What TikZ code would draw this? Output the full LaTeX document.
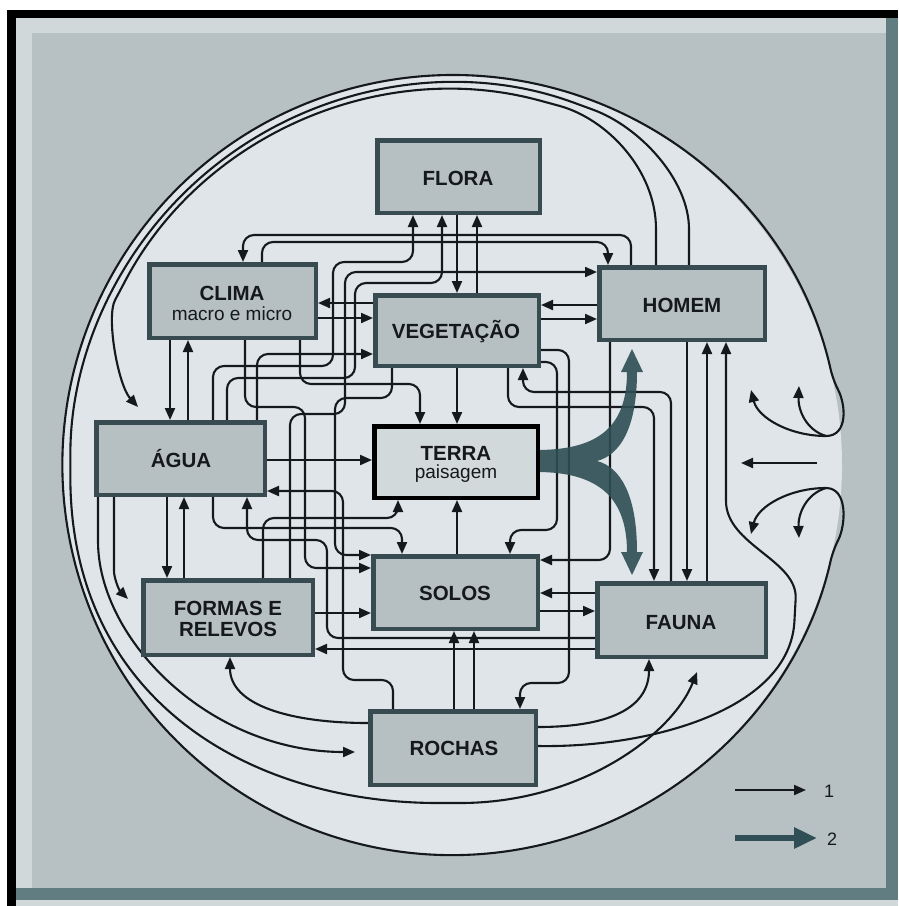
\documentclass[tikz,border=0pt]{standalone}
\usepackage{fontspec}
\setmainfont{Liberation Sans}
\usetikzlibrary{arrows.meta}
\definecolor{pagelight}{HTML}{D0D8DA}
\definecolor{pagegray}{HTML}{B7C0C3}
\definecolor{edgeteal}{HTML}{627D81}
\definecolor{circlefill}{HTML}{DFE5E8}
\definecolor{boxfill}{HTML}{B6BFC2}
\definecolor{boxedge}{HTML}{384B50}
\definecolor{terrafill}{HTML}{D2D9DB}
\definecolor{ink}{HTML}{15191B}
\definecolor{forkc}{HTML}{2F4E55}

\begin{document}
\begin{tikzpicture}[x=1pt,y=-1pt,
  box/.style={rectangle, draw=boxedge, line width=4.5pt, fill=boxfill, inner sep=0pt},
  boxlbl/.style={anchor=base, inner sep=0pt, text=ink, font=\fontsize{20.5}{22}\selectfont\bfseries},
  boxsub/.style={anchor=base, inner sep=0pt, text=ink, font=\fontsize{19}{21}\selectfont},
  wire/.style={draw=ink, line width=2.1pt, rounded corners=11pt},
  conn/.style={wire, -{Triangle[length=12pt,width=10pt]}},
  keynum/.style={inner sep=0pt, text=ink, font=\fontsize{18}{20}\selectfont},
]
\useasboundingbox (0,0) rectangle (898,906);

% ---- page, frame and circle -------------------------------------------
\fill[white] (0,0) rectangle (898,906);
\fill[black] (7,10) rectangle (898,18);
\fill[black] (7,10) rectangle (16,906);
\fill[pagelight] (16,18) rectangle (898,906);
\fill[pagegray] (32,33) rectangle (886,888);
\fill[edgeteal] (886,18) rectangle (898,900);
\fill[edgeteal] (16,888) rectangle (898,900);
\fill[circlefill] (452,465) circle[radius=390];

% ---- boxes (drawn later, positions fixed here) -------------------------
\path
  node[box, minimum width=162.5pt, minimum height=72.5pt] (flora)  at (458.5,176.5) {}
  node[box, minimum width=166.5pt, minimum height=73.5pt] (clima)  at (232.5,301)   {}
  node[box, minimum width=163.5pt, minimum height=70.5pt] (veg)    at (457,330.5)   {}
  node[box, minimum width=165.5pt, minimum height=72.5pt] (homem)  at (682,303.5)   {}
  node[box, minimum width=168.5pt, minimum height=72.5pt] (agua)   at (180.5,458.5) {}
  node[box, draw=black, fill=terrafill, minimum width=163.5pt, minimum height=71.5pt] (terra) at (456,462) {}
  node[box, minimum width=164.5pt, minimum height=72.5pt] (solos)  at (455.5,592.5) {}
  node[box, minimum width=169.5pt, minimum height=74.5pt] (formas) at (228,617.5)   {}
  node[box, minimum width=168.5pt, minimum height=73.5pt] (fauna)  at (681.5,620)   {}
  node[box, minimum width=165.5pt, minimum height=73.5pt] (rochas) at (453,748)     {};

% ---- free ends of the outer connectors ---------------------------------
\coordinate (aguaIn)   at (138,407);
\coordinate (formasIn) at (128,599);
\coordinate (faunaIn)  at (697,672);
\coordinate (hookU)    at (826,436);
\coordinate (hookL)    at (826,488);
\coordinate (inUa) at (751,390);
\coordinate (inUb) at (799,386);
\coordinate (inLa) at (751,534);
\coordinate (inLb) at (799,538);
\coordinate (inMs) at (817,463);
\coordinate (inMe) at (741,463);

% ---- outer ring ---------------------------------------------------------
\draw[wire] (hookU) .. controls (848,436) and (846,405) .. (833,380)
  arc[start angle=-12.6, end angle=-347.4, radius=390]
  .. controls (846,525) and (848,488) .. (hookL);
\draw[conn] (hookU) .. controls (790,436) and (758,418) .. (inUa);
\draw[conn] (hookU) .. controls (806,430) and (798,410) .. (inUb);
\draw[conn] (hookL) .. controls (790,488) and (758,506) .. (inLa);
\draw[conn] (hookL) .. controls (806,494) and (798,514) .. (inLb);
\draw[conn] (inMs) -- (inMe);

\draw[conn] (656,0 |- homem.north) -- (656,240) .. controls (656,170) and (607,119) .. (549,103)
  arc[start angle=-75, end angle=-152.2, radius=375]
  .. controls (106,317) and (118,385) .. (aguaIn);
\draw[conn] (689,0 |- homem.north) -- (689,240) .. controls (689,180) and (640,127) .. (583,106)
  arc[start angle=-70, end angle=-180, radius=382]
  .. controls (70,700) and (250,803) .. (449,803)
  .. controls (580,803) and (672,735) .. (faunaIn);
\draw[conn, shorten >=13pt] (98,0 |- agua.south) -- (98,530)
  .. controls (98,640) and (210,752) .. (rochas.west |- 0,752);
\draw[conn] (114,0 |- agua.south) -- (114,560) .. controls (114,578) and (119,590) .. (formasIn);

% ---- upper web -------------------------------------------------------------
\draw[conn] (631,0 |- homem.north) -- (631,235) -- (243,235) -- (243,0 |- clima.north);
\draw[conn] (262,0 |- clima.north) -- (262,242) -- (608,242) -- (608,0 |- homem.north);
\draw[conn] (457,0 |- flora.south) -- (457,0 |- veg.north);
\draw[conn] (477,0 |- veg.north) -- (477,0 |- flora.south);
\draw[conn] (veg.west |- 0,303) -- (clima.east |- 0,303);
\draw[conn] (clima.east |- 0,318) -- (veg.west |- 0,318);
\draw[conn] (homem.west |- 0,305) -- (veg.east |- 0,305);
\draw[conn] (veg.east |- 0,319) -- (homem.west |- 0,319);
\draw[conn] (213,0 |- agua.north) -- (213,366) -- (333,366) -- (333,262) -- (413,262) -- (413,0 |- flora.south);
\draw[conn] (227,0 |- agua.north) -- (227,378) -- (355,378) -- (355,283) -- (442,283) -- (442,0 |- flora.south);
\draw[conn] (257,0 |- agua.north) -- (257,354) -- (veg.west |- 0,354);
\draw[conn] (170,0 |- clima.south) -- (170,0 |- agua.north);
\draw[conn] (188,0 |- agua.north) -- (188,0 |- clima.south);
\draw[conn] (300,0 |- clima.south) -- (300,384) -- (420,384) -- (420,0 |- terra.north);
\draw[conn] (245,0 |- clima.south) -- (245,407) -- (305,407) -- (305,568) -- (solos.west |- 0,568);
\draw[conn] (392,0 |- veg.south) -- (392,398) -- (335,398) -- (335,555) -- (solos.west |- 0,555);
\draw[conn] (290,0 |- formas.north) -- (290,414) -- (345,414) -- (345,272) -- (homem.west |- 0,272);
\draw[conn] (457,0 |- veg.south) -- (457,0 |- terra.north);

% ---- middle and lower web ------------------------------------------------
\draw[conn] (agua.east |- 0,460) -- (terra.west |- 0,460);
\draw[conn] (393,0 |- rochas.north) -- (393,680) -- (343,680) -- (343,491) -- (agua.east |- 0,491);
\draw[conn] (fauna.west |- 0,638) -- (327,638) -- (327,540) -- (247,540) -- (247,0 |- agua.south);
\draw[conn] (fauna.west |- 0,649) -- (formas.east |- 0,649);
\draw[conn] (formas.east |- 0,613) -- (solos.west |- 0,613);
\draw[conn] (263,0 |- formas.north) -- (263,518) -- (398,518) -- (398,0 |- terra.south);
\draw[conn] (213,0 |- agua.south) -- (213,528) -- (402,528) -- (402,0 |- solos.north);
\draw[conn] (457,0 |- solos.north) -- (457,0 |- terra.south);
\draw[conn] (454,0 |- rochas.north) -- (454,0 |- solos.south);
\draw[conn] (474,0 |- rochas.north) -- (474,0 |- solos.south);
\draw[conn] (167,0 |- agua.south) -- (167,0 |- formas.north);
\draw[conn] (184,0 |- formas.north) -- (184,0 |- agua.south);
\draw[conn] (rochas.west |- 0,723) .. controls (290,723) and (230,705) .. (230,0 |- formas.south);
\draw[conn] (rochas.east |- 0,727) .. controls (615,727) and (649,705) .. (649,0 |- fauna.south);
\draw[conn] (rochas.east |- 0,746) .. controls (650,748) and (790,710) .. (795,610)
  .. controls (798,560) and (726,545) .. (726,490) -- (726,0 |- homem.south);
\draw[conn] (veg.east |- 0,362) -- (557,362) -- (557,530) -- (510,530) -- (510,0 |- solos.north);
\draw[conn] (veg.east |- 0,350) -- (569,350) -- (569,683) -- (520,683) -- (520,0 |- rochas.north);
\draw[conn] (671,0 |- fauna.north) -- (671,392) -- (523,392) -- (523,0 |- veg.south);
\draw[conn] (508,0 |- veg.south) -- (508,407) -- (654,407) -- (654,0 |- fauna.north);
\draw[conn] (610,0 |- homem.south) -- (610,560) -- (solos.east |- 0,560);
\draw[conn] (687,0 |- homem.south) -- (687,0 |- fauna.north);
\draw[conn] (707,0 |- fauna.north) -- (707,0 |- homem.south);
\draw[conn] (fauna.west |- 0,593) -- (solos.east |- 0,593);
\draw[conn] (solos.east |- 0,611) -- (fauna.west |- 0,611);

% ---- boxes on top of the wires ---------------------------------------
\path
  node[box, minimum width=162.5pt, minimum height=72.5pt] at (flora)  {}
  node[box, minimum width=166.5pt, minimum height=73.5pt] at (clima)  {}
  node[box, minimum width=163.5pt, minimum height=70.5pt] at (veg)    {}
  node[box, minimum width=165.5pt, minimum height=72.5pt] at (homem)  {}
  node[box, minimum width=168.5pt, minimum height=72.5pt] at (agua)   {}
  node[box, draw=black, fill=terrafill, minimum width=163.5pt, minimum height=71.5pt] at (terra) {}
  node[box, minimum width=164.5pt, minimum height=72.5pt] at (solos)  {}
  node[box, minimum width=169.5pt, minimum height=74.5pt] at (formas) {}
  node[box, minimum width=168.5pt, minimum height=73.5pt] at (fauna)  {}
  node[box, minimum width=165.5pt, minimum height=73.5pt] at (rochas) {};

% ---- labels --------------------------------------------------------------
\node[boxlbl] (floraT)  at (458,185) {FLORA};
\node[boxlbl] (climaT)  at (232,300) {CLIMA};
\node[boxsub] (climaS)  at (232,320) {macro e micro};
\node[boxlbl] (vegT)    at (456,338) {VEGETAÇÃO};
\node[boxlbl] (homemT)  at (682,312) {HOMEM};
\node[boxlbl] (aguaT)   at (181,467) {ÁGUA};
\node[boxlbl] (terraT)  at (456,460) {TERRA};
\node[boxsub] (terraS)  at (456,478) {paisagem};
\node[boxlbl] (solosT)  at (455,600) {SOLOS};
\node[boxlbl] (formasT) at (228,615) {FORMAS E};
\node[boxlbl] (formasU) at (228,636) {RELEVOS};
\node[boxlbl] (faunaT)  at (681,629) {FAUNA};
\node[boxlbl] (rochasT) at (454,755) {ROCHAS};

% ---- double flow out of TERRA -----------------------------------------
\fill[forkc, opacity=0.9] (terra.east |- 0,450) .. controls (592,449) and (627,432) .. (627,372)
  -- (621,372) -- (632,349) -- (643,372) -- (637,372)
  .. controls (637,428) and (620,455) .. (597,461)
  .. controls (620,467) and (637,494) .. (637,552)
  -- (643,552) -- (632,575) -- (621,552) -- (627,552)
  .. controls (627,492) and (592,473) .. (terra.east |- 0,472) -- cycle;

% ---- key -------------------------------------------------------------------
\coordinate (k1s) at (735,790);
\coordinate (k1e) at (806,790);
\coordinate (k2s) at (735,838);
\coordinate (k2e) at (817,838);
\draw[conn] (k1s) -- (k1e);
\draw[draw=forkc, line width=6pt, -{Triangle[length=23pt,width=20pt]}] (k2s) -- (k2e);
\node[keynum] (k1n) at (829,791) {1};
\node[keynum] (k2n) at (832,839) {2};
\end{tikzpicture}
\end{document}
